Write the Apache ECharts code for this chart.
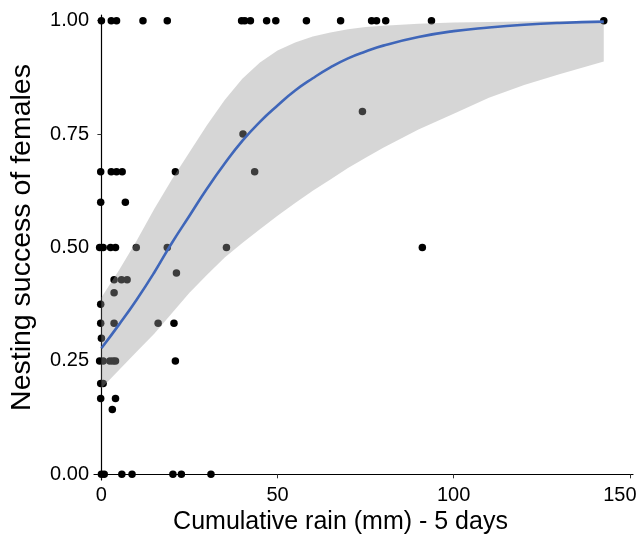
<!DOCTYPE html>
<html>
<head>
<meta charset="utf-8">
<script src="https://cdn.jsdelivr.net/npm/echarts@6/dist/echarts.min.js"></script>
<style>
  html, body { margin: 0; padding: 0; background: #fff; }
  #chart { width: 640px; height: 535px; }
</style>
</head>
<body>
<div id="chart"></div>
<script>
// observed points: rain (mm, 5 days) and nesting success
var rainX = [
    0, 2.8, 4.3, 11.8, 18.7, 39.8, 40.7, 42.3, 46.9, 49.5, 58.2, 67.9, 76.7, 78.1, 80.7, 93.7, 142.6,
    40.2, 74.1,
    -0.2, 2.8, 4.3, 5.9, 21.0, 43.5,
    -0.2, 6.8,
    -0.5, 0.5, 2.6, 4.0, 9.9, 18.7, 35.5, 91.1,
    21.3,
    3.6, 5.7, 7.3,
    3.6,
    -0.2,
    -0.2, 3.6, 16.1, 20.6,
    0,
    -0.5, 0.5, 2.4, 3.3, 4.0, 21.0,
    -0.2, 0.5,
    -0.2, 4.0,
    3.1,
    0, 0.8, 5.8, 8.7, 20.3, 22.7, 31.1
];
var success = [
    1, 1, 1, 1, 1, 1, 1, 1, 1, 1, 1, 1, 1, 1, 1, 1, 1,
    0.75, 0.8,
    0.667, 0.667, 0.667, 0.667, 0.667, 0.667,
    0.6, 0.6,
    0.5, 0.5, 0.5, 0.5, 0.5, 0.5, 0.5, 0.5,
    0.444,
    0.429, 0.429, 0.429,
    0.4,
    0.375,
    0.333, 0.333, 0.333, 0.333,
    0.3,
    0.25, 0.25, 0.25, 0.25, 0.25, 0.25,
    0.2, 0.2,
    0.167, 0.167,
    0.143,
    0, 0, 0, 0, 0, 0, 0
];

// fitted curve and its confidence band
var fitX     = [0, 5, 10, 15, 20, 25, 30, 35, 40, 45, 50, 55, 60, 65, 70, 75, 80, 90, 100, 110, 120, 130, 142.6];
var fitY     = [0.278, 0.33, 0.385, 0.445, 0.51, 0.57, 0.63, 0.685, 0.735, 0.777, 0.813, 0.846, 0.873, 0.897, 0.917, 0.932, 0.945, 0.964, 0.977, 0.985, 0.991, 0.995, 0.998];
var fitLower = [0.19, 0.23, 0.27, 0.31, 0.355, 0.40, 0.44, 0.478, 0.51, 0.54, 0.57, 0.598, 0.625, 0.65, 0.675, 0.698, 0.72, 0.76, 0.795, 0.83, 0.858, 0.882, 0.91];
var fitUpper = [0.39, 0.45, 0.515, 0.585, 0.65, 0.71, 0.77, 0.825, 0.872, 0.908, 0.934, 0.952, 0.965, 0.974, 0.981, 0.986, 0.989, 0.993, 0.996, 0.997, 0.998, 0.999, 0.999];

var xTicks = [0, 50, 100, 150];
var yTicks = [0, 0.25, 0.5, 0.75, 1];

var chartElement = document.getElementById('chart');

var points = rainX.map(function (x, i) { return [x, success[i]]; });
var curve = fitX.map(function (x, i) { return [x, fitY[i]]; });
var band = fitX.map(function (x, i) { return [x, fitLower[i], fitUpper[i]]; });

var textFont = 'Liberation Sans';

// whole ribbon drawn as one polygon, upper edge out and lower edge back
function renderBand(params, api) {
    if (params.dataIndex !== 0) return;
    var pts = [];
    for (var i = 0; i < band.length; i++) {
        pts.push(api.coord([band[i][0], band[i][2]]));
    }
    for (var j = band.length - 1; j >= 0; j--) {
        pts.push(api.coord([band[j][0], band[j][1]]));
    }
    return {
        type: 'polygon',
        shape: { points: pts },
        style: { fill: '#999999', opacity: 0.4 }
    };
}

var option = {
    animation: false,
    backgroundColor: '#fff',
    grid: { left: 94, right: 7, top: 15, bottom: 55, outerBoundsMode: 'none' },
    xAxis: {
        type: 'value',
        min: -2.1,
        max: 150.9,
        name: 'Cumulative rain (mm) - 5 days',
        nameLocation: 'middle',
        nameGap: 27,
        nameTextStyle: { fontFamily: textFont, fontSize: 25, color: '#000', padding: [0, 46, 0, 0] },
        splitLine: { show: false },
        axisLine: { lineStyle: { color: '#000', width: 1.2 } },
        axisTick: { customValues: xTicks, length: 4, lineStyle: { color: '#333' } },
        axisLabel: {
            customValues: xTicks,
            margin: 5,
            fontFamily: textFont,
            fontSize: 20,
            color: '#000',
            // the last label sits a little left of its tick, as in the figure
            formatter: function (v) { return v === 150 ? '{last|150}' : String(v); },
            rich: {
                last: { fontFamily: textFont, fontSize: 20, color: '#000', padding: [0, 20, 0, 0] }
            }
        }
    },
    yAxis: {
        type: 'value',
        min: -0.0125,
        max: 1.0125,
        name: 'Nesting success of females',
        nameLocation: 'middle',
        nameGap: 57,
        nameTextStyle: { fontFamily: textFont, fontSize: 28.5, color: '#000', padding: [0, 0, 0, 20] },
        splitLine: { show: false },
        axisLine: { show: true, lineStyle: { color: '#000', width: 1.2 } },
        axisTick: { show: true, customValues: yTicks, length: 4, lineStyle: { color: '#333' } },
        axisLabel: {
            customValues: yTicks,
            margin: 5,
            fontFamily: textFont,
            fontSize: 20,
            color: '#000',
            formatter: function (v) { return v.toFixed(2); }
        }
    },
    series: [
        {
            name: 'observed',
            type: 'scatter',
            data: points,
            symbolSize: 7.5,
            itemStyle: { color: '#000', opacity: 1 },
            z: 2
        },
        {
            name: 'band',
            type: 'custom',
            data: band,
            encode: { x: 0, y: [1, 2] },
            renderItem: renderBand,
            silent: true,
            z: 3
        },
        {
            name: 'fit',
            type: 'line',
            data: curve,
            symbol: 'none',
            smooth: 0.5,
            lineStyle: { color: '#3F66B9', width: 2.6 },
            z: 4
        }
    ]
};

var chart = echarts.init(chartElement);
chart.setOption(option);

window.onresize = function () {
    chart.resize();
};
</script>
</body>
</html>
